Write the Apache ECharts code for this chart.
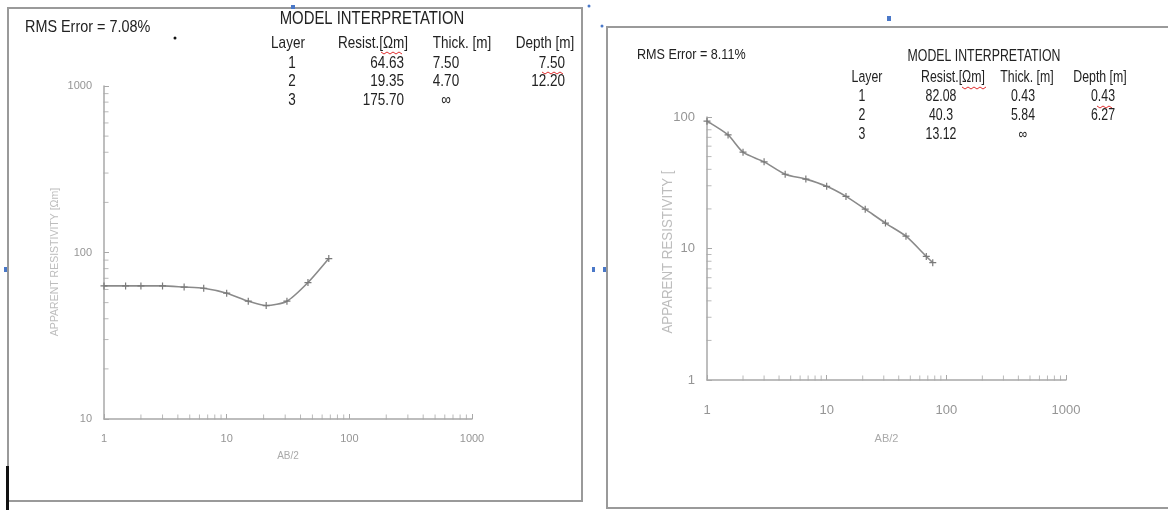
<!DOCTYPE html>
<html>
<head>
<meta charset="utf-8">
<script src="https://cdn.jsdelivr.net/npm/echarts@6/dist/echarts.min.js"></script>
<style>html,body{margin:0;padding:0;background:#fff}#c{width:1168px;height:510px}</style>
</head>
<body>
<div id="c"></div>
<script>
// ---- data ----
const leftAB = [1, 1.5, 2, 3, 4.5, 6.5, 10, 15, 21, 31, 46, 68];
const leftRho = [63, 63, 63, 63, 62, 61, 57, 51, 48, 51, 66, 92];
const rightAB = [1, 1.5, 2, 3, 4.5, 6.7, 10, 14.5, 21, 31, 46, 68, 77];
const rightRho = [93, 73, 54, 45.6, 36.7, 33.7, 29.7, 24.9, 19.9, 15.6, 12.4, 8.7, 7.8];

const leftRMS = 'RMS Error = 7.08%';
const rightRMS = 'RMS Error = 8.11%';
const tableHeader = ['Layer', 'Resist.[Ωm]', 'Thick. [m]', 'Depth [m]'];
const leftLayers = ['1', '2', '3'];
const leftResist = ['64.63', '19.35', '175.70'];
const leftThick = ['7.50', '4.70', '∞'];
const leftDepth = ['7.50', '12.20', ''];
const rightLayers = ['1', '2', '3'];
const rightResist = ['82.08', '40.3', '13.12'];
const rightThick = ['0.43', '5.84', '∞'];
const rightDepth = ['0.43', '6.27', ''];

const xTickLabels = [1, 10, 100, 1000];
const leftYTickLabels = [10, 100, 1000];
const rightYTickLabels = [1, 10, 100];
const minorX = [2,3,4,5,6,7,8,9,20,30,40,50,60,70,80,90,200,300,400,500,600,700,800,900];
const leftMinorY = [20,30,40,50,60,70,80,90,200,300,400,500,600,700,800,900];
const rightMinorY = [2,3,4,5,6,7,8,9,20,30,40,50,60,70,80,90];
const leftYName = 'APPARENT RESISTIVITY [Ωm]';
const rightYName = 'APPARENT RESISTIVITY [';

// ---- chart ----
const FONT = '"Liberation Sans", Arial, sans-serif';
const chart = echarts.init(document.getElementById('c'), null, {renderer: 'canvas'});

const crossSym = 'path://M0,5L10,5M5,0L5,10';

function txt(x, y, s, size, align, color, sx, rot, sy) {
  return {type: 'text', x: x, y: y, silent: true, scaleX: sx || 1, scaleY: sy || 1, rotation: rot || 0,
    style: {text: s, font: size + 'px ' + FONT, fill: color || '#222', align: align || 'left', verticalAlign: 'middle'}};
}
function table(cfg) {
  const els = [];
  els.push(txt(cfg.titleX, cfg.titleY, 'MODEL INTERPRETATION', cfg.titleSize, 'center', '#222', cfg.titleSx, 0, cfg.sy));
  tableHeader.forEach((h, i) => els.push(txt(cfg.colX[i], cfg.headY, h, cfg.size, 'center', '#222', cfg.sx, 0, cfg.sy)));
  cfg.layers.forEach((l, r) => {
    const y = cfg.headY + cfg.firstGap + cfg.rowH * r;
    els.push(txt(cfg.valX[0], y, l, cfg.size, 'center', '#222', cfg.sx, 0, cfg.sy));
    els.push(txt(cfg.valX[1], y, cfg.resist[r], cfg.size, cfg.valAlign[1], '#222', cfg.sx, 0, cfg.sy));
    els.push(txt(cfg.valX[2], y, cfg.thick[r], cfg.size, cfg.valAlign[2], '#222', cfg.sx, 0, cfg.sy));
    els.push(txt(cfg.valX[3], y, cfg.depth[r], cfg.size, cfg.valAlign[3], '#222', cfg.sx, 0, cfg.sy));
  });
  return els;
}
function squiggle(x0, x1, y) {
  const pts = [];
  for (let x = x0, k = 0; x <= x1; x += 3, k++) pts.push([x, y + (k % 2 ? 2 : 0)]);
  return {type: 'polyline', shape: {points: pts}, style: {stroke: '#e03030', lineWidth: 1, fill: 'none'}, silent: true};
}

const graphics = [
  // frames
  {type: 'rect', shape: {x: 8, y: 8, width: 574, height: 493}, style: {fill: 'none', stroke: '#9a9a9a', lineWidth: 2}, silent: true},
  {type: 'rect', shape: {x: 607, y: 27, width: 600, height: 481}, style: {fill: 'none', stroke: '#9a9a9a', lineWidth: 2}, silent: true},
  {type: 'rect', shape: {x: 6, y: 466, width: 3, height: 44}, style: {fill: '#111'}, silent: true},
  {type: 'circle', shape: {cx: 175, cy: 38, r: 1.5}, style: {fill: '#111'}, silent: true},
  // small blue handles
  {type: 'rect', shape: {x: 291, y: 5, width: 4, height: 4}, style: {fill: '#4a78c8'}, silent: true},
  {type: 'rect', shape: {x: 887, y: 16, width: 4, height: 5}, style: {fill: '#4a78c8'}, silent: true},
  {type: 'rect', shape: {x: 4, y: 267, width: 3, height: 5}, style: {fill: '#4a78c8'}, silent: true},
  {type: 'rect', shape: {x: 592, y: 267, width: 3, height: 5}, style: {fill: '#4a78c8'}, silent: true},
  {type: 'rect', shape: {x: 603, y: 267, width: 3, height: 5}, style: {fill: '#4a78c8'}, silent: true},
  {type: 'circle', shape: {cx: 589, cy: 6, r: 1.5}, style: {fill: '#4a78c8'}, silent: true},
  {type: 'circle', shape: {cx: 602, cy: 26, r: 1.5}, style: {fill: '#4a78c8'}, silent: true},
  // RMS labels
  txt(25, 27, leftRMS, 16, 'left', '#222', 0.9, 0, 1.05),
  txt(637, 55, rightRMS, 14, 'left', '#222', 0.9, 0, 1.05),
  // y axis names
  txt(55, 262, leftYName, 10.5, 'center', '#bdbdbd', 1, Math.PI / 2),
  txt(668, 252, rightYName, 14, 'center', '#bdbdbd', 0.95, Math.PI / 2),
  // spell-check squiggles
  squiggle(381, 404, 52),
  squiggle(542, 563, 72),
  squiggle(962, 987, 87),
  squiggle(1097, 1112, 106)
].concat(
  table({titleX: 372, titleY: 19, titleSize: 16, titleSx: 0.93, size: 15, sx: 0.9, sy: 1.12, headY: 43, firstGap: 20, rowH: 18.5,
    colX: [288, 373, 462, 545], valX: [292, 404, 446, 565], valAlign: ['center', 'right', 'center', 'right'],
    layers: leftLayers, resist: leftResist, thick: leftThick, depth: leftDepth}),
  table({titleX: 984, titleY: 57, titleSize: 14, titleSx: 0.88, size: 14, sx: 0.88, sy: 1.12, headY: 78, firstGap: 19, rowH: 19,
    colX: [867, 953, 1027, 1100], valX: [862, 941, 1023, 1103], valAlign: ['center', 'center', 'center', 'center'],
    layers: rightLayers, resist: rightResist, thick: rightThick, depth: rightDepth})
);

function axisCommon(labels, size, margin) {
  return {
    axisLine: {show: true, lineStyle: {color: '#a8a8a8', width: 1.5}},
    axisTick: {show: true, inside: true, length: 5, lineStyle: {color: '#a8a8a8'}},
    splitLine: {show: false},
    axisLabel: {color: '#959595', fontSize: size, fontFamily: FONT, margin: margin, showMinLabel: true, showMaxLabel: true,
      formatter: v => labels.includes(Math.round(v)) ? String(Math.round(v)) : ''}
  };
}

function tickSeries(xi, vals, fixed, vertical) {
  return {
    type: 'scatter', xAxisIndex: xi, yAxisIndex: xi, silent: true, clip: false, z: 1,
    symbol: 'rect', symbolSize: vertical ? [1, 5] : [5, 1], symbolOffset: vertical ? [0, -2] : [2, 0],
    itemStyle: {color: '#a8a8a8'},
    data: vals.map(v => vertical ? [v, fixed] : [fixed, v])
  };
}

function curve(xi, xs, ys) {
  return {
    type: 'line', xAxisIndex: xi, yAxisIndex: xi, smooth: 0.25, z: 3,
    data: xs.map((x, i) => [x, ys[i]]),
    lineStyle: {color: '#8a8a8a', width: 1.6},
    symbol: crossSym, symbolSize: 7,
    itemStyle: {color: 'none', borderColor: '#7a7a7a', borderWidth: 1.2}
  };
}

chart.setOption({
  animation: false,
  backgroundColor: '#fff',
  grid: [
    {left: 104, top: 86, width: 368, height: 333},
    {left: 707, top: 117, width: 359, height: 263}
  ],
  xAxis: [
    Object.assign({gridIndex: 0, type: 'log', logBase: 10, min: 1, max: 1000,
      name: 'AB/2', nameLocation: 'middle', nameGap: 32,
      nameTextStyle: {color: '#aaa', fontSize: 10, fontFamily: FONT}}, axisCommon(xTickLabels, 11, 14)),
    Object.assign({gridIndex: 1, type: 'log', logBase: 10, min: 1, max: 1000,
      name: 'AB/2', nameLocation: 'middle', nameGap: 53,
      nameTextStyle: {color: '#aaa', fontSize: 11, fontFamily: FONT}}, axisCommon(xTickLabels, 13, 24))
  ],
  yAxis: [
    Object.assign({gridIndex: 0, type: 'log', logBase: 10, min: 10, max: 1000}, axisCommon(leftYTickLabels, 11, 12)),
    Object.assign({gridIndex: 1, type: 'log', logBase: 10, min: 1, max: 100}, axisCommon(rightYTickLabels, 13, 12))
  ],
  graphic: graphics,
  series: [
    tickSeries(0, minorX, 10, true),
    tickSeries(0, leftMinorY, 1, false),
    tickSeries(1, minorX, 1, true),
    tickSeries(1, rightMinorY, 1, false),
    curve(0, leftAB, leftRho),
    curve(1, rightAB, rightRho)
  ]
});
</script>
</body>
</html>
